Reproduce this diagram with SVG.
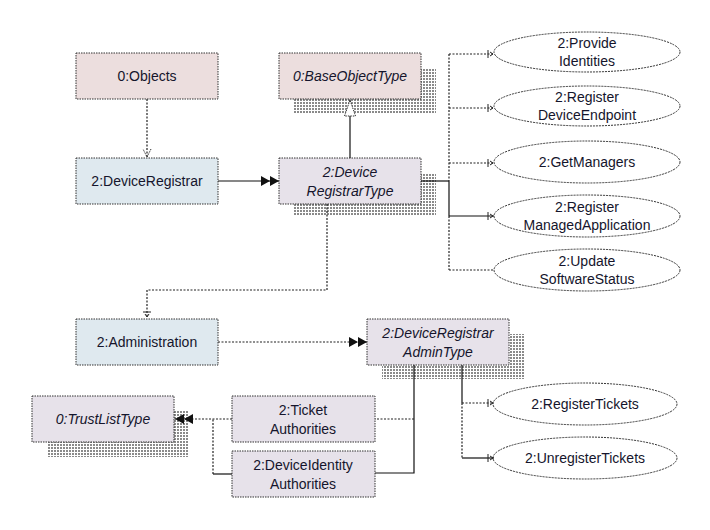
<svg xmlns="http://www.w3.org/2000/svg" width="710" height="530" viewBox="0 0 710 530">
<defs>
<pattern id="dots" width="3" height="3" patternUnits="userSpaceOnUse">
<rect width="2" height="2" fill="#8a8a8a"/>
</pattern>
<marker id="open" viewBox="0 0 10 10" refX="9" refY="5" markerWidth="10" markerHeight="10" markerUnits="userSpaceOnUse" orient="auto">
<path d="M1,1 L9,5 L1,9" fill="none" stroke="#333" stroke-width="1" stroke-dasharray="1.5,1"/>
</marker>
<marker id="dbl" viewBox="0 0 18 12" refX="18" refY="6" markerWidth="18" markerHeight="12" markerUnits="userSpaceOnUse" orient="auto">
<path d="M0,1 L9,6 L0,11 Z M9,1 L18,6 L9,11 Z" fill="#111"/>
</marker>
<marker id="tri" viewBox="0 0 18 14" refX="17" refY="7" markerWidth="18" markerHeight="14" markerUnits="userSpaceOnUse" orient="auto">
<path d="M1,1.5 L17,7 L1,12.5 Z" fill="#fff" stroke="#333" stroke-width="1" stroke-dasharray="1.5,1"/>
</marker>
<marker id="tick" viewBox="0 0 10 10" refX="9" refY="5" markerWidth="10" markerHeight="10" markerUnits="userSpaceOnUse" orient="auto">
<path d="M3,1 L3,9 M5,3 L8,5 L5,7" fill="none" stroke="#222" stroke-width="1"/>
</marker>
</defs>
<style>
.node{stroke:#333;stroke-width:1;stroke-dasharray:1.5,1}
.pink{fill:#ecdede}
.blue{fill:#dfe9ef}
.lav{fill:#e7e2ea}
.ell{fill:#fff;stroke:#333;stroke-width:1;stroke-dasharray:2,1}
.shadow{fill:url(#dots)}
text{font-family:"Liberation Sans",Arial,sans-serif;font-size:14px;fill:#15152c;text-anchor:middle}
.it{font-style:italic}
.solid{fill:none;stroke:#111;stroke-width:1.2}
.dash{fill:none;stroke:#222;stroke-width:1.2;stroke-dasharray:2,1.5}
</style>
<rect width="710" height="530" fill="#fff"/>

<g id="objects">
<rect class="node pink" x="76" y="53" width="142" height="46"/>
<text x="147" y="81">0:Objects</text>
</g>
<g id="deviceRegistrar">
<rect class="node blue" x="76" y="158" width="142" height="46"/>
<text x="147" y="186">2:DeviceRegistrar</text>
</g>
<g id="baseObjectType">
<rect class="shadow" x="294" y="68" width="142" height="46"/>
<rect class="node pink" x="279" y="53" width="142" height="46"/>
<text class="it" x="350" y="81">0:BaseObjectType</text>
</g>
<g id="deviceRegistrarType">
<rect class="shadow" x="294" y="173" width="142" height="43"/>
<rect class="node lav" x="279" y="158" width="142" height="46"/>
<text class="it" x="350" y="177">2:Device</text>
<text class="it" x="350" y="196">RegistrarType</text>
</g>
<g id="provideIdentities">
<ellipse class="ell" cx="587" cy="52" rx="93" ry="20"/>
<text x="587" y="48">2:Provide</text>
<text x="587" y="66">Identities</text>
</g>
<g id="registerDeviceEndpoint">
<ellipse class="ell" cx="587" cy="106" rx="93" ry="20"/>
<text x="587" y="102">2:Register</text>
<text x="587" y="120">DeviceEndpoint</text>
</g>
<g id="getManagers">
<ellipse class="ell" cx="587" cy="162" rx="93" ry="21"/>
<text x="587" y="167">2:GetManagers</text>
</g>
<g id="registerManagedApplication">
<ellipse class="ell" cx="587" cy="216" rx="93" ry="21"/>
<text x="587" y="212">2:Register</text>
<text x="587" y="230">ManagedApplication</text>
</g>
<g id="updateSoftwareStatus">
<ellipse class="ell" cx="587" cy="270" rx="93" ry="21"/>
<text x="587" y="266">2:Update</text>
<text x="587" y="284">SoftwareStatus</text>
</g>
<g id="administration">
<rect class="node blue" x="76" y="319" width="142" height="46"/>
<text x="147" y="347">2:Administration</text>
</g>
<g id="deviceRegistrarAdminType">
<rect class="shadow" x="382" y="334" width="142" height="45"/>
<rect class="node lav" x="367" y="319" width="142" height="46"/>
<text class="it" x="438" y="338">2:DeviceRegistrar</text>
<text class="it" x="438" y="357">AdminType</text>
</g>
<g id="registerTickets">
<ellipse class="ell" cx="585" cy="404" rx="92" ry="21"/>
<text x="585" y="409">2:RegisterTickets</text>
</g>
<g id="unregisterTickets">
<ellipse class="ell" cx="585" cy="458" rx="92" ry="21"/>
<text x="585" y="463">2:UnregisterTickets</text>
</g>
<g id="trustListType">
<rect class="shadow" x="47" y="411" width="141" height="46"/>
<rect class="node lav" x="32" y="396" width="142" height="46"/>
<text class="it" x="103" y="424">0:TrustListType</text>
</g>
<g id="ticketAuthorities">
<rect class="node lav" x="232" y="396" width="143" height="46"/>
<text x="303" y="415">2:Ticket</text>
<text x="303" y="434">Authorities</text>
</g>
<g id="deviceIdentityAuthorities">
<rect class="node lav" x="232" y="451" width="143" height="46"/>
<text x="303" y="470">2:DeviceIdentity</text>
<text x="303" y="489">Authorities</text>
</g>

<g id="connectors">
<path class="dash" d="M147,99 V157" marker-end="url(#open)"/>
<path class="solid" d="M218,181 H279" marker-end="url(#dbl)"/>
<path class="solid" d="M350,158 V100" marker-end="url(#tri)"/>
<path class="dash" d="M327,204 V290 H147 V318" marker-end="url(#tick)"/>
<path class="solid" d="M421,181 H449"/>
<path class="dash" d="M449,54 V181"/>
<path class="solid" d="M449,181 V216"/>
<path class="dash" d="M449,216 V270"/>
<path class="dash" d="M449,54 H494" marker-end="url(#tick)"/>
<path class="dash" d="M449,108 H494" marker-end="url(#tick)"/>
<path class="dash" d="M449,163 H494" marker-end="url(#tick)"/>
<path class="solid" d="M449,216 H494" marker-end="url(#tick)"/>
<path class="dash" d="M449,270 H494"/>
<path class="dash" d="M218,342 H367" marker-end="url(#dbl)"/>
<path class="solid" d="M462,365 V403"/>
<path class="dash" d="M462,403 V458"/>
<path class="dash" d="M462,403 H494" marker-end="url(#tick)"/>
<path class="solid" d="M462,458 H494" marker-end="url(#tick)"/>
<path class="solid" d="M414,365 V473 H375"/>
<path class="dash" d="M414,419 H375"/>
<path class="dash" d="M232,419 H175" marker-end="url(#dbl)"/>
<path class="solid" d="M232,474 H213"/>
<path class="dash" d="M213,474 V419"/>
</g>
</svg>
